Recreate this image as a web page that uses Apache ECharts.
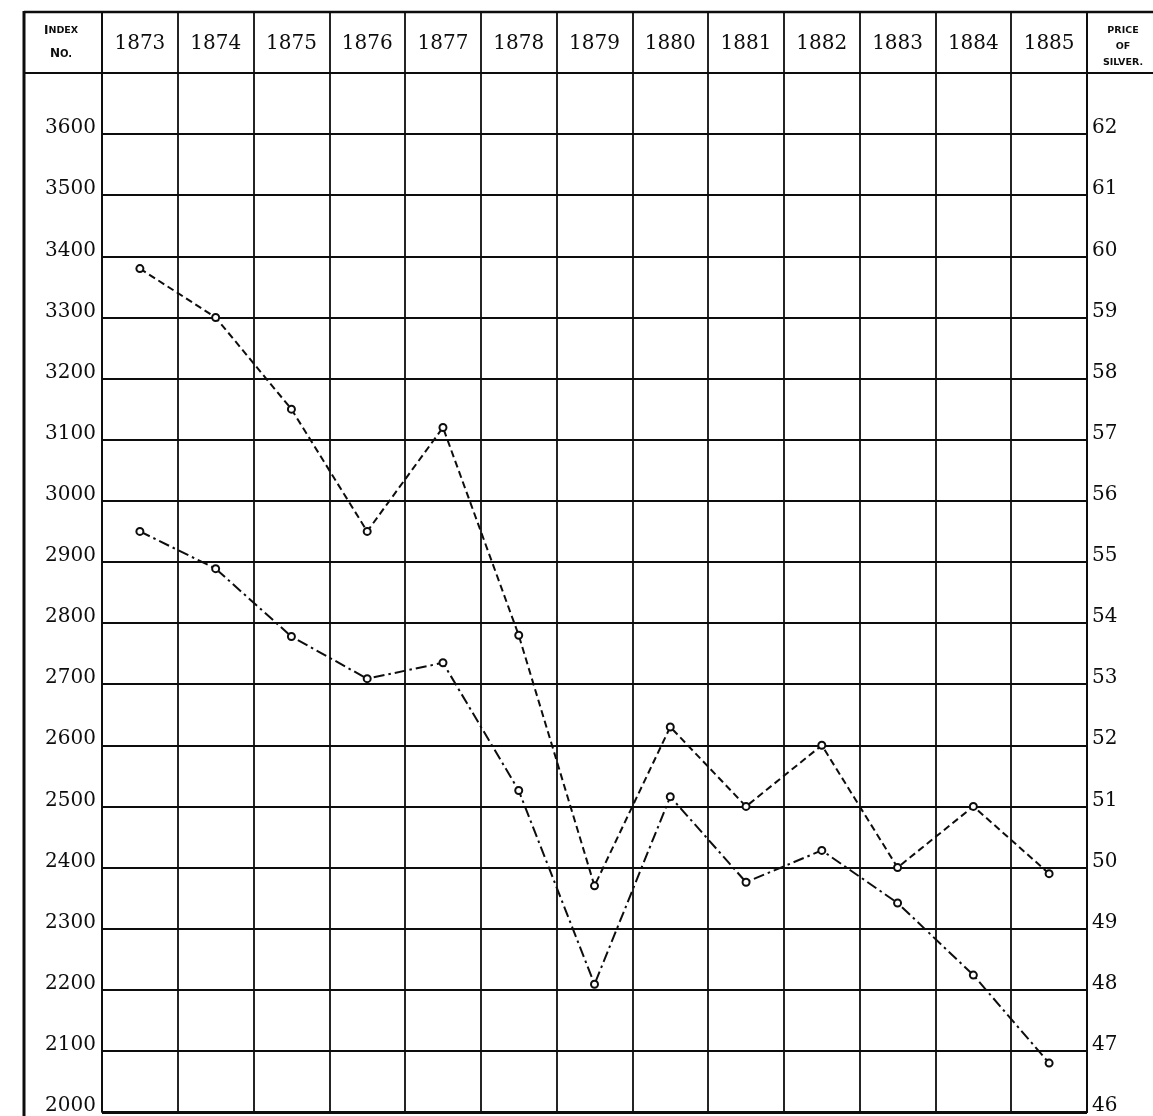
<!DOCTYPE html>
<html>
<head>
<meta charset="utf-8">
<script src="https://cdn.jsdelivr.net/npm/echarts@6/dist/echarts.min.js"></script>
<style>
html,body{margin:0;padding:0;background:#fff;}
#c{width:1153px;height:1116px;}
</style>
</head>
<body>
<div id="c"></div>
<script>
// ---- data ----
const years = ['1873','1874','1875','1876','1877','1878','1879','1880','1881','1882','1883','1884','1885'];
// Index numbers (dash-dot line, left scale)
const indexNumbers = [2950, 2889, 2778, 2709, 2735, 2526, 2209, 2516, 2376, 2428, 2342, 2224, 2080];
// Price of silver, pence per oz (dashed line, right scale)
const silverPrices = [59.8, 59.0, 57.5, 55.5, 57.2, 53.8, 49.7, 52.3, 51.0, 52.0, 50.0, 51.0, 49.9];
// axis ranges / ticks
const indexMin = 2000, indexMax = 3700, indexStep = 100;
const silverMin = 46, silverMax = 63, silverStep = 1;

const ink = '#0d0d0d';
const serif = 'DejaVu Serif';
const chart = echarts.init(document.getElementById('c'), null, {renderer: 'canvas'});

const option = {
  backgroundColor: '#fff',
  animation: false,
  grid: {left: 102, right: 66, top: 73, bottom: 3, containLabel: false},
  xAxis: {
    type: 'category',
    position: 'top',
    data: years,
    boundaryGap: true,
    axisLine: {show: true, lineStyle: {color: ink, width: 2}},
    axisTick: {show: true, interval: 0, length: 61, inside: false, lineStyle: {color: ink, width: 1.8}},
    axisLabel: {interval: 0, fontFamily: serif, fontSize: 20, color: ink, margin: 29, verticalAlign: 'middle'},
    splitLine: {show: true, interval: 0, lineStyle: {color: ink, width: 1.8}}
  },
  yAxis: [
    {
      type: 'value', position: 'left',
      min: indexMin, max: indexMax, interval: indexStep,
      axisLine: {show: true, lineStyle: {color: ink, width: 1.8}},
      axisTick: {show: false},
      axisLabel: {
        fontFamily: serif, fontSize: 20, color: ink, margin: 6, verticalAlign: 'bottom', lineHeight: 12,
        formatter: v => (v === indexMax ? '' : String(v))
      },
      splitLine: {show: true, lineStyle: {color: ink, width: 1.8}}
    },
    {
      type: 'value', position: 'right',
      min: silverMin, max: silverMax, interval: silverStep,
      axisLine: {show: true, lineStyle: {color: ink, width: 1.8}},
      axisTick: {show: false},
      axisLabel: {
        fontFamily: serif, fontSize: 20, color: ink, margin: 5, verticalAlign: 'bottom', lineHeight: 12,
        formatter: v => (v === silverMax ? '' : String(v))
      },
      splitLine: {show: false}
    }
  ],
  series: [
    {
      name: 'Index No.', type: 'line', yAxisIndex: 0, data: indexNumbers,
      symbol: 'emptyCircle', symbolSize: 7,
      lineStyle: {color: ink, width: 2, type: [11, 4, 2.5, 4]},
      itemStyle: {color: ink, borderColor: ink, borderWidth: 2.4}
    },
    {
      name: 'Price of Silver', type: 'line', yAxisIndex: 1, data: silverPrices,
      symbol: 'emptyCircle', symbolSize: 7,
      lineStyle: {color: ink, width: 2, type: [7, 4]},
      itemStyle: {color: ink, borderColor: ink, borderWidth: 2.4}
    }
  ],
  graphic: [
    {type: 'line', shape: {x1: 24, y1: 12, x2: 1153, y2: 12}, style: {stroke: ink, lineWidth: 2.4}},
    {type: 'line', shape: {x1: 24, y1: 73, x2: 1153, y2: 73}, style: {stroke: ink, lineWidth: 2}},
    {type: 'line', shape: {x1: 24, y1: 11, x2: 24, y2: 1116}, style: {stroke: ink, lineWidth: 3}},
    {type: 'line', shape: {x1: 102, y1: 12, x2: 102, y2: 73}, style: {stroke: ink, lineWidth: 1.8}},
    {type: 'line', shape: {x1: 1087, y1: 12, x2: 1087, y2: 1113}, style: {stroke: ink, lineWidth: 1.8}},
    {type: 'line', shape: {x1: 102, y1: 1113, x2: 1087, y2: 1113}, style: {stroke: ink, lineWidth: 2}},
    {
      type: 'text', left: 44, top: 25,
      style: {
        text: '{a|I}{b|NDEX}', fill: ink,
        rich: {
          a: {fontFamily: 'DejaVu Sans', fontWeight: 'bold', fontSize: 12, fill: ink},
          b: {fontFamily: 'DejaVu Sans', fontWeight: 'bold', fontSize: 9.5, fill: ink}
        }
      }
    },
    {
      type: 'text', left: 50, top: 48,
      style: {
        text: '{a|N}{b|O.}', fill: ink,
        rich: {
          a: {fontFamily: 'DejaVu Sans', fontWeight: 'bold', fontSize: 12, fill: ink},
          b: {fontFamily: 'DejaVu Sans', fontWeight: 'bold', fontSize: 10, fill: ink}
        }
      }
    },
    {
      type: 'text', x: 1123, y: 23,
      style: {
        text: 'PRICE\nOF\nSILVER.', fill: ink, align: 'center', verticalAlign: 'top',
        fontFamily: 'DejaVu Sans', fontWeight: 'bold', fontSize: 9.5, lineHeight: 16
      }
    }
  ]
};
chart.setOption(option);
</script>
</body>
</html>
